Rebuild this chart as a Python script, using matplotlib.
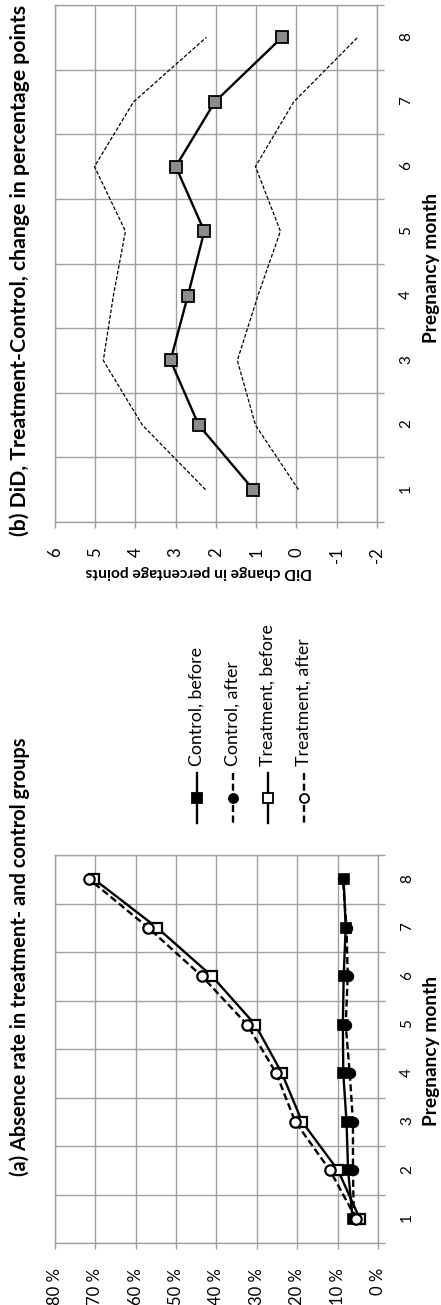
import matplotlib
matplotlib.use("Agg")
import matplotlib.pyplot as plt
from matplotlib.lines import Line2D
import numpy as np

# ---------------- data ----------------
months = [1, 2, 3, 4, 5, 6, 7, 8]
control_before = [6.3, 7.4, 7.8, 8.6, 8.7, 8.5, 8.0, 8.5]
control_after = [6.0, 6.2, 6.2, 7.0, 8.0, 7.5, 7.8, 8.7]
treatment_before = [4.5, 9.9, 18.8, 23.8, 30.4, 41.1, 54.7, 70.3]
treatment_after = [5.4, 11.9, 20.5, 25.2, 32.4, 43.6, 56.9, 71.5]

did = [1.07, 2.43, 3.13, 2.70, 2.29, 3.00, 2.03, 0.36]
did_upper = [2.26, 3.83, 4.80, 4.55, 4.25, 5.02, 4.05, 2.24]
did_lower = [-0.05, 1.02, 1.47, 0.96, 0.40, 1.02, 0.07, -1.52]

pct_ticks = [0, 10, 20, 30, 40, 50, 60, 70, 80]
pct_labels = [f"{v} %" for v in pct_ticks]
did_ticks = [-2, -1, 0, 1, 2, 3, 4, 5, 6]
did_labels = [str(v) for v in did_ticks]
legend_labels = ["Control, before", "Control, after", "Treatment, before", "Treatment, after"]

title_a = "(a) Absence rate in treatment- and control groups"
title_b = "(b) DiD, Treatment-Control, change in percentage points"
month_label = "Pregnancy month"
did_label = "DiD change in percentage points"

# ---------------- style ----------------
FONT = ["Lato", "DejaVu Sans"]
plt.rcParams["font.family"] = FONT
GRID = "#a0a0a0"

W, H = 441, 1305
fig = plt.figure(figsize=(W / 100, H / 100), dpi=100)
renderer = fig.canvas.get_renderer()


def rect(l, t, r, b):
    return [l / W, 1 - b / H, (r - l) / W, (b - t) / H]


def fx(x):
    return x / W


def fy(y):
    return 1 - y / H


def fit(text, target, vertical=True):
    """Scale a text's font size so its length matches the target length in pixels."""
    for _ in range(3):
        bb = text.get_window_extent(renderer)
        length = bb.height if vertical else bb.width
        text.set_fontsize(text.get_fontsize() * target / length)


TICK_FS = 12
MONTH_FS = 11


def style_axes(ax, vticks, vlabels, vmin, vmax):
    ax.set_xlim(vmax, vmin)  # value increases to the left
    ax.set_ylim(0.5, 8.5)
    ax.set_xticks(vticks)
    ax.set_xticklabels(vlabels, rotation=90, fontsize=TICK_FS)
    ax.yaxis.tick_right()
    ax.set_yticks(months)
    ax.set_yticklabels([str(m) for m in months], rotation=90, fontsize=MONTH_FS)
    ax.set_yticks(np.arange(0.5, 9.0, 1.0), minor=True)
    ax.tick_params(axis="y", which="major", length=0, pad=16)
    ax.tick_params(axis="y", which="minor", length=5, color=GRID, width=1)
    ax.tick_params(axis="x", which="major", length=4, color=GRID, width=1, pad=14)
    ax.grid(axis="x", which="major", color=GRID, lw=1)
    ax.grid(axis="y", which="minor", color=GRID, lw=1)
    ax.set_axisbelow(True)
    for s in ax.spines.values():
        s.set_color(GRID)
        s.set_linewidth(1)


# ---------------- panel (b) ----------------
axb = fig.add_axes(rect(55, 5, 377, 522))
style_axes(axb, did_ticks, did_labels, -2, 6)
axb.plot(did_upper, months, color="black", lw=0.9, ls=(0, (3, 1.5)))
axb.plot(did_lower, months, color="black", lw=0.9, ls=(0, (3, 1.5)))
axb.plot(did, months, color="black", lw=1.7, marker="s", ms=8,
         mfc="#8c8c8c", mec="black", mew=1.3)

# ---------------- panel (a) ----------------
axa = fig.add_axes(rect(55, 855, 378, 1243))
style_axes(axa, pct_ticks, pct_labels, 0, 80)
axa.plot(control_before, months, color="black", lw=1.7, marker="s", ms=7,
         mfc="black", mec="black", mew=1.2)
axa.plot(control_after, months, color="black", lw=1.7, ls=(0, (3, 1.5)), marker="o", ms=7,
         mfc="black", mec="black", mew=1.2)
axa.plot(treatment_before, months, color="black", lw=1.7, marker="s", ms=7.5,
         mfc="white", mec="black", mew=1.6)
axa.plot(treatment_after, months, color="black", lw=1.7, ls=(0, (3, 1.5)), marker="o", ms=7.5,
         mfc="white", mec="black", mew=1.6)

# ---------------- texts ----------------
tb = fig.text(fx(20), fy(270), title_b, rotation=90, fontsize=13, fontweight="bold",
              ha="center", va="center")
fit(tb, 530)
ta = fig.text(fx(20), fy(957), title_a, rotation=90, fontsize=13, fontweight="bold",
              ha="center", va="center")
fit(ta, 440)
mb = fig.text(fx(432), fy(268), month_label, rotation=90, fontsize=13, fontweight="bold",
              ha="center", va="center")
fit(mb, 150)
ma = fig.text(fx(432), fy(1051), month_label, rotation=90, fontsize=13, fontweight="bold",
              ha="center", va="center")
fit(ma, 150)
dl = fig.text(fx(199), fy(572), did_label, rotation=180, fontsize=12, fontweight="bold",
              ha="center", va="center")
fit(dl, 226, vertical=False)

# ---------------- legend (vertical, drawn on a helper axes) ----------------
axl = fig.add_axes([0, 0, 1, 1])
axl.set_xlim(0, W)
axl.set_ylim(H, 0)
axl.axis("off")
leg_styles = [
    dict(ls="-", marker="s", mfc="black", ms=7),
    dict(ls=(0, (3, 1.5)), marker="o", mfc="black", ms=6.5),
    dict(ls="-", marker="s", mfc="white", ms=7),
    dict(ls=(0, (3, 1.5)), marker="o", mfc="white", ms=6.5),
]
leg_x = [197, 233, 268, 304]
leg_texts = []
for x, lab, st in zip(leg_x, legend_labels, leg_styles):
    axl.add_line(Line2D([x, x], [773, 823], color="black", lw=1.7, ls=st["ls"]))
    axl.add_line(Line2D([x], [798], marker=st["marker"], ms=st["ms"], mfc=st["mfc"],
                        mec="black", mew=1.3, ls="none"))
    t = axl.text(x, 766, lab, rotation=90, fontsize=12, ha="center", va="bottom")
    leg_texts.append(t)
# size legend font so "Treatment, before" is ~142 px long
fit(leg_texts[2], 142)
for t in leg_texts:
    t.set_fontsize(leg_texts[2].get_fontsize())

fig.savefig("out.png", dpi=100)
